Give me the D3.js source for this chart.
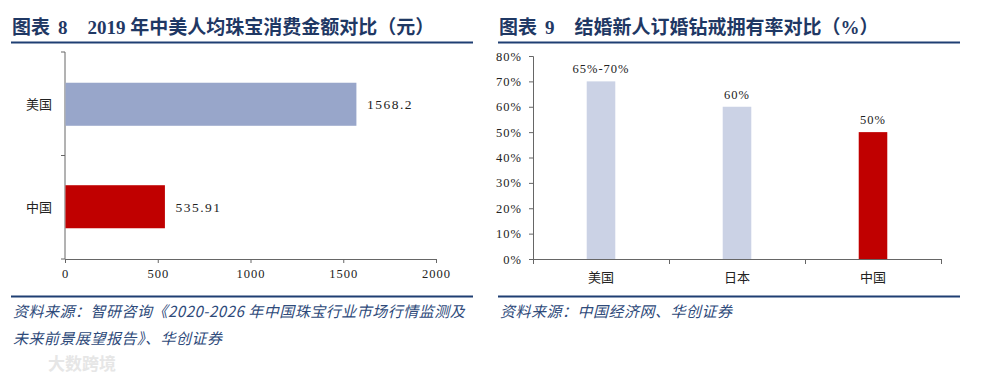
<!DOCTYPE html>
<html>
<head>
<meta charset="utf-8">
<script src="https://cdn.jsdelivr.net/npm/d3@7"></script>
<style>
  body { margin: 0; background: #fff; }
  svg text { font-family: "Liberation Serif", "Noto Sans CJK SC", serif; }
  .title { font-family: "Liberation Serif", "Noto Sans CJK SC", serif; font-weight: 700; font-size: 19px; fill: #1f3864; }
  .cjk { font-family: "Noto Sans CJK SC", sans-serif; }
  .tick text, .axis text { font-size: 12.5px; fill: #222; letter-spacing: 1px; }
  .src { font-family: "Noto Sans CJK SC", sans-serif; font-style: italic; font-size: 15px; fill: #2e4a7a; letter-spacing: 0.5px; }
</style>
</head>
<body>
<div id="chart"></div>
<script>
// left chart: 2019 per-capita jewelry spend (yuan)
const spendCats = ["美国", "中国"];
const spendVals = [1568.2, 535.91];
const spendLabels = ["1568.2", "535.91"];
const spendTicks = [0, 500, 1000, 1500, 2000];

// right chart: engagement diamond ownership rate (%)
const ringCats = ["美国", "日本", "中国"];
const ringVals = [70, 60, 50];
const ringLabels = ["65%-70%", "60%", "50%"];
const ringTicks = [0, 10, 20, 30, 40, 50, 60, 70, 80];

const W = 984, H = 378;
const navy = "#1f3f73";

const svg = d3.select("#chart").append("svg")
    .attr("width", W)
    .attr("height", H);

// ---- headers and rules
function header(x0, x1, label, num, title) {
    let t = svg.append("text").attr("class", "title").attr("x", x0 + 1).attr("y", 34);
    t.append("tspan").attr("class", "cjk").text(label);
    t.append("tspan").attr("dx", 8).text(num);
    t.append("tspan").attr("dx", 20).text(title);
    svg.append("line").attr("x1", x0).attr("x2", x1).attr("y1", 42.5).attr("y2", 42.5)
        .attr("stroke", navy).attr("stroke-width", 2.2);
    svg.append("line").attr("x1", x0).attr("x2", x1).attr("y1", 296.5).attr("y2", 296.5)
        .attr("stroke", navy).attr("stroke-width", 2.2);
}
header(11, 473, "图表", "8", "2019 年中美人均珠宝消费金额对比（元）");
header(498, 960, "图表", "9", "结婚新人订婚钻戒拥有率对比（%）");

// ---- left: horizontal bars
let xL = d3.scaleLinear().domain([0, 2000]).range([65, 436]);
let yL = d3.scaleBand().domain(spendCats).range([52, 259]).paddingInner(0.58).paddingOuter(0.3);

let gL = svg.append("g");
gL.append("g")
    .attr("class", "axis")
    .attr("transform", "translate(0,259)")
    .call(d3.axisBottom(xL).tickValues(spendTicks).tickFormat(d3.format("d")).tickSize(4).tickPadding(6))
    .call(g => g.selectAll("path,line").attr("stroke", "#666"));

gL.append("line").attr("x1", 65).attr("x2", 65).attr("y1", 52).attr("y2", 259).attr("stroke", "#666");
[52, 155.5, 259].forEach(y => {
    gL.append("line").attr("x1", 61).attr("x2", 65).attr("y1", y).attr("y2", y).attr("stroke", "#666");
});

gL.selectAll(".catL").data(spendCats).enter().append("text")
    .attr("class", "cjk")
    .attr("x", 52).attr("y", d => yL(d) + yL.bandwidth() / 2 + 5)
    .attr("text-anchor", "end").attr("font-size", 13).attr("fill", "#222")
    .text(d => d);

gL.selectAll(".barL").data(spendVals).enter().append("rect")
    .attr("x", xL(0) + 0.5)
    .attr("y", (d, i) => yL(spendCats[i]))
    .attr("width", d => xL(d) - xL(0))
    .attr("height", yL.bandwidth())
    .attr("fill", (d, i) => i == 0 ? "#98a6ca" : "#c00000");

gL.selectAll(".valL").data(spendVals).enter().append("text")
    .attr("x", d => xL(d) + 11)
    .attr("y", (d, i) => yL(spendCats[i]) + yL.bandwidth() / 2 + 5)
    .attr("font-size", 13.5).attr("fill", "#222").attr("letter-spacing", 1.5)
    .text((d, i) => spendLabels[i]);

// ---- right: vertical bars
let xR = d3.scaleBand().domain(ringCats).range([533, 941]).paddingInner(0.79).paddingOuter(0.395);
let yR = d3.scaleLinear().domain([0, 80]).range([259, 56]);

let gR = svg.append("g");
gR.append("g")
    .attr("class", "axis")
    .attr("transform", "translate(533,0)")
    .call(d3.axisLeft(yR).tickValues(ringTicks).tickFormat(d => d + "%").tickSize(4).tickPadding(7))
    .call(g => g.select(".domain").attr("d", "M-4,56.5H0.5V259.5"))
    .call(g => g.selectAll("path,line").attr("stroke", "#666"));

gR.append("line").attr("x1", 533).attr("x2", 941).attr("y1", 259.5).attr("y2", 259.5).attr("stroke", "#666");
[533, 669, 805, 941].forEach(x => {
    gR.append("line").attr("x1", x + 0.5).attr("x2", x + 0.5).attr("y1", 259).attr("y2", 264).attr("stroke", "#666");
});

gR.selectAll(".barR").data(ringVals).enter().append("rect")
    .attr("x", (d, i) => xR(ringCats[i]))
    .attr("y", d => yR(d))
    .attr("width", xR.bandwidth())
    .attr("height", d => yR(0) - yR(d))
    .attr("fill", (d, i) => i == 2 ? "#c00000" : "#cbd2e5");

gR.selectAll(".valR").data(ringVals).enter().append("text")
    .attr("x", (d, i) => xR(ringCats[i]) + xR.bandwidth() / 2)
    .attr("y", d => yR(d) - 8)
    .attr("text-anchor", "middle").attr("font-size", 12.5).attr("fill", "#222").attr("letter-spacing", 1)
    .text((d, i) => ringLabels[i]);

gR.selectAll(".catR").data(ringCats).enter().append("text")
    .attr("class", "cjk")
    .attr("x", d => xR(d) + xR.bandwidth() / 2)
    .attr("y", 282)
    .attr("text-anchor", "middle").attr("font-size", 13).attr("fill", "#222")
    .text(d => d);

// ---- sources
svg.append("text").attr("class", "src").attr("x", 13).attr("y", 317)
    .text("资料来源：智研咨询《2020-2026 年中国珠宝行业市场行情监测及");
svg.append("text").attr("class", "src").attr("x", 13).attr("y", 344)
    .text("未来前景展望报告》、华创证券");
svg.append("text").attr("class", "src").attr("x", 500).attr("y", 317)
    .text("资料来源：中国经济网、华创证券");

// faint watermark
svg.append("text").attr("class", "cjk").attr("x", 48).attr("y", 370)
    .attr("font-size", 17).attr("font-weight", 700).attr("fill", "#e6e6e6")
    .text("大数跨境");
</script>
</body>
</html>
